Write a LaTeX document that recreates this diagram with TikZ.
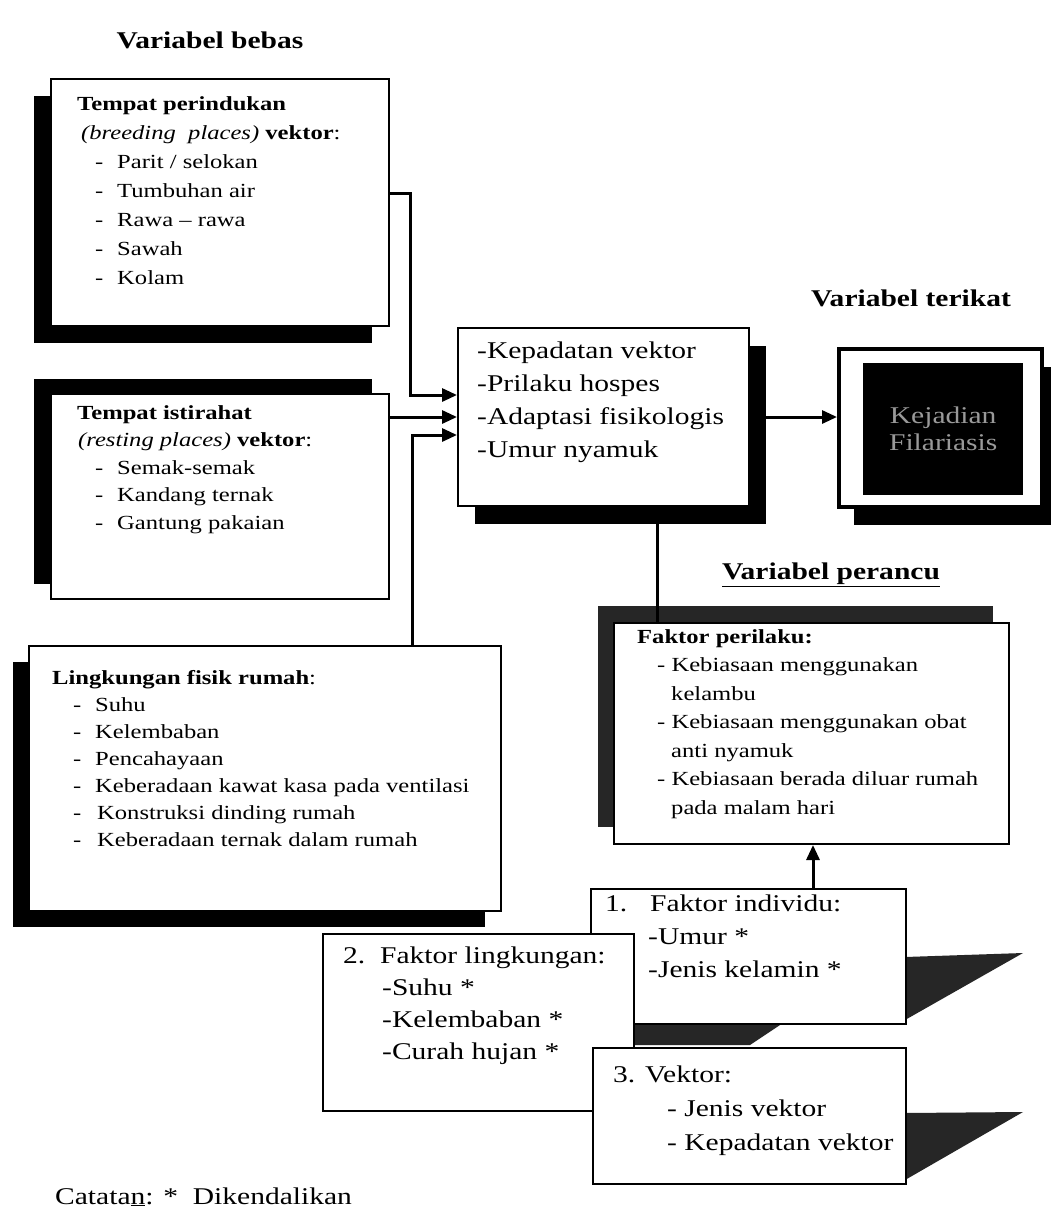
\documentclass[tikz,border=0pt]{standalone}
\usepackage{fontspec}
\setmainfont{Liberation Serif}[FakeStretch=1.23]
\usetikzlibrary{arrows.meta,shadows}

\tikzset{
  box/.style={draw=black, line width=2pt, fill=white, rectangle, inner sep=0pt, anchor=north west},
  txt/.style={anchor=north west, inner sep=0pt, align=left},
  title/.style={inner sep=0pt, font=\fontsize{24}{28}\selectfont\bfseries},
  shbl/.style={drop shadow={shadow xshift=-17pt, shadow yshift=-17pt, opacity=1, fill=black}},
  shtl/.style={drop shadow={shadow xshift=-17pt, shadow yshift=15pt, opacity=1, fill=black}},
  shbr/.style={drop shadow={shadow xshift=17pt, shadow yshift=-18pt, opacity=1, fill=black}},
  shgrey/.style={drop shadow={shadow xshift=-16pt, shadow yshift=17pt, opacity=1, fill=black!85}},
  skew/.style={fill=black!85},
  arr/.style={line width=3pt, -{Triangle[length=15pt,width=13pt]}},
  link/.style={line width=3pt},
  small/.style={font=\fontsize{20}{#1}\selectfont},
  large/.style={font=\fontsize{24}{#1}\selectfont},
}

\begin{document}
\begin{tikzpicture}[x=1pt, y=-1pt]
\useasboundingbox (0,0) rectangle (1050,1210);
\fill[white] (0,0) rectangle (1050,1210);

% titles
\node[title] (tbebas) at (210,40) {Variabel bebas};
\node[title] (tterikat) at (911,298) {Variabel terikat};
\node[title] (tperancu) at (831,575) {\underline{Variabel perancu}};

% independent variables
\node[box, shbl, minimum width=338pt, minimum height=247pt] (b1) at (50,78) {};
\node[txt, small=29] (b1t) at (77,96) {%
  \textbf{Tempat perindukan}\\
  \hspace*{4pt}\textit{(breeding\ \ places)} \textbf{vektor}:\\
  \hspace*{18pt}\makebox[22pt][l]{-}Parit / selokan\\
  \hspace*{18pt}\makebox[22pt][l]{-}Tumbuhan air\\
  \hspace*{18pt}\makebox[22pt][l]{-}Rawa -- rawa\\
  \hspace*{18pt}\makebox[22pt][l]{-}Sawah\\
  \hspace*{18pt}\makebox[22pt][l]{-}Kolam};

\node[box, shtl, minimum width=338pt, minimum height=205pt] (b2) at (50,393) {};
\node[txt, small=27.5] (b2t) at (77,405) {%
  \textbf{Tempat istirahat}\\
  \hspace*{1pt}\textit{(resting places)} \textbf{vektor}:\\
  \hspace*{18pt}\makebox[22pt][l]{-}Semak-semak\\
  \hspace*{18pt}\makebox[22pt][l]{-}Kandang ternak\\
  \hspace*{18pt}\makebox[22pt][l]{-}Gantung pakaian};

\node[box, drop shadow={shadow xshift=-16pt, shadow yshift=-16pt, opacity=1, fill=black},
      minimum width=472pt, minimum height=265pt] (b3) at (28,645) {};
\node[txt, small=27] (b3t) at (52,670) {%
  \textbf{Lingkungan fisik rumah}:\\
  \hspace*{21pt}\makebox[22pt][l]{-}Suhu\\
  \hspace*{21pt}\makebox[22pt][l]{-}Kelembaban\\
  \hspace*{21pt}\makebox[22pt][l]{-}Pencahayaan\\
  \hspace*{21pt}\makebox[22pt][l]{-}Keberadaan kawat kasa pada ventilasi\\
  \hspace*{21pt}\makebox[24pt][l]{-}Konstruksi dinding rumah\\
  \hspace*{21pt}\makebox[24pt][l]{-}Keberadaan ternak dalam rumah};

% intermediate factors
\node[box, shbr, minimum width=291pt, minimum height=178pt] (c) at (457,327) {};
\node[txt, large=33] (ct) at (477,342) {%
  -Kepadatan vektor\\
  -Prilaku hospes\\
  -Adaptasi fisikologis\\
  -Umur nyamuk};

% dependent variable
\node[box, line width=3.5pt, drop shadow={shadow xshift=15pt, shadow yshift=-18pt, opacity=1, fill=black},
      minimum width=203pt, minimum height=158pt] (dk) at (837,347) {};
\node[fill=black, inner sep=0pt, minimum width=160pt, minimum height=132pt, anchor=north west,
      align=center, text=black!40, font=\fontsize{24}{27}\selectfont] (dki) at (863,363)
      {Kejadian\\Filariasis};

% confounders
\node[box, shgrey, minimum width=395pt, minimum height=221pt] (per) at (613,622) {};
\node[txt, small=28.5] (pert) at (637,629) {%
  \textbf{Faktor perilaku:}\\
  \hspace*{20pt}- Kebiasaan menggunakan\\
  \hspace*{34pt}kelambu\\
  \hspace*{20pt}- Kebiasaan menggunakan obat\\
  \hspace*{34pt}anti nyamuk\\
  \hspace*{20pt}- Kebiasaan berada diluar rumah\\
  \hspace*{34pt}pada malam hari};

% slanted shadow of the first factor box
\fill[skew] (905,957) -- (1023,953) -- (905,1020) -- cycle;
\fill[skew] (620,1023) -- (783,1023) -- (750,1045) -- (620,1045) -- cycle;
\node[box, minimum width=315pt, minimum height=135pt] (ind) at (590,888) {};
\node[txt, large=33] (indt) at (605,895) {%
  \makebox[45pt][l]{1.}Faktor individu:\\
  \hspace*{43pt}-Umur *\\
  \hspace*{43pt}-Jenis kelamin *};

\node[box, minimum width=311pt, minimum height=177pt] (env) at (322,933) {};
\node[txt, large=32] (envt) at (343,947) {%
  \makebox[37pt][l]{2.}Faktor lingkungan:\\
  \hspace*{39pt}-Suhu *\\
  \hspace*{39pt}-Kelembaban *\\
  \hspace*{39pt}-Curah hujan *};

\fill[skew] (905,1113) -- (1023,1112) -- (905,1180) -- cycle;
\node[box, minimum width=313pt, minimum height=136pt] (vek) at (592,1047) {};
\node[txt, large=34] (vekt) at (613,1066) {%
  3. Vektor:\\
  \hspace*{54pt}- Jenis vektor\\
  \hspace*{54pt}- Kepadatan vektor};

% note
\node[anchor=base west, inner sep=0pt, font=\fontsize{24}{28}\selectfont] (note) at (55,1204)
  {Catata\underline{n}: *\ \ Dikendalikan};

% connectors
\draw[arr] (b1.east |- 0,193) -- (410,193) -- (410,395) -- (c.west |- 0,395);
\draw[arr] (b2.east |- 0,417) -- (c.west |- 0,417);
\draw[arr] (b3.north -| 412,0) -- (412,435) -- (c.west |- 0,435);
\draw[arr] (c.east |- 0,417) -- (dk.west |- 0,417);
\draw[link] (c.south -| 657,0) -- (per.north -| 657,0);
\draw[arr] (ind.north -| 813,0) -- (per.south -| 813,0);
\end{tikzpicture}
\end{document}
